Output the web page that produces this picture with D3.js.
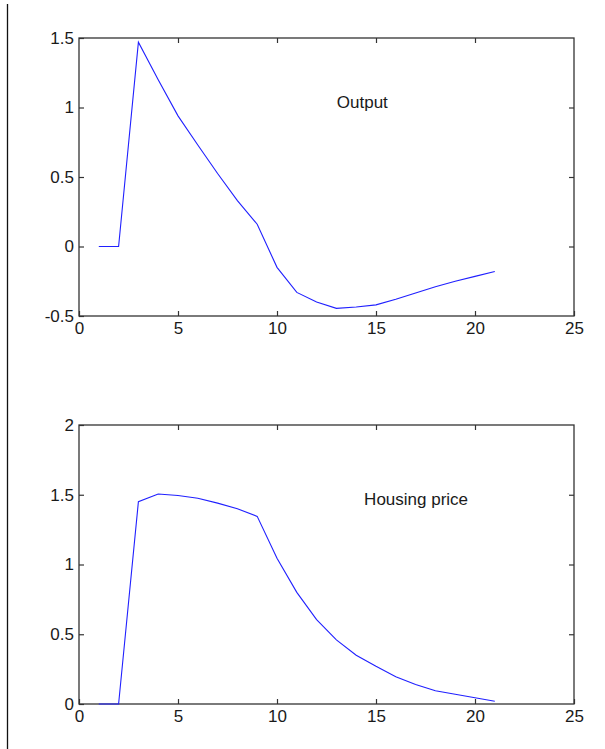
<!DOCTYPE html>
<html>
<head>
<meta charset="utf-8">
<script src="https://cdn.jsdelivr.net/npm/d3@7"></script>
<style>
  body { margin: 0; background: #fff; }
  text { font-family: "Liberation Sans", Arial, sans-serif; }
</style>
</head>
<body>
<script>
// periods (horizon) shared by both panels
var periods = [1, 2, 3, 4, 5, 6, 7, 8, 9, 10, 11, 12, 13, 14, 15, 16, 17, 18, 19, 20, 21];
var output = [0, 0, 1.47, 1.2, 0.94, 0.73, 0.525, 0.33, 0.16, -0.15, -0.33, -0.40, -0.445, -0.435, -0.42, -0.38, -0.335, -0.29, -0.25, -0.215, -0.18];
var housing = [0, 0, 1.45, 1.505, 1.495, 1.475, 1.44, 1.4, 1.345, 1.045, 0.8, 0.605, 0.46, 0.35, 0.27, 0.195, 0.14, 0.095, 0.07, 0.045, 0.02];
var xTicks = [0, 5, 10, 15, 20, 25];
var outputTicks = [-0.5, 0, 0.5, 1, 1.5];
var housingTicks = [0, 0.5, 1, 1.5, 2];

var W = 605, H = 749;
var svg = d3.select('body')
    .append('svg')
    .attr('width', W)
    .attr('height', H);

// vertical rule at the left edge of the page
svg.append('line')
    .attr('x1', 7.5).attr('x2', 7.5)
    .attr('y1', 4).attr('y2', H)
    .attr('stroke', '#111')
    .attr('stroke-width', 1.3);

function panel(top, height, yDomain, yTicks, values, label, labelPos) {
    var left = 79, width = 495;
    var x = d3.scaleLinear().domain([0, 25]).range([0, width]);
    var y = d3.scaleLinear().domain(yDomain).range([height, 0]);
    var g = svg.append('g')
        .attr('transform', 'translate(' + left + ',' + top + ')');
    var fmt = function (d) { return String(d); };

    // bottom axis with labels, ticks pointing inward
    g.append('g')
        .attr('transform', 'translate(0,' + height + ')')
        .call(d3.axisBottom(x).tickValues(xTicks).tickSizeInner(-5).tickSizeOuter(0).tickPadding(6).tickFormat(fmt));
    // top axis: ticks only
    g.append('g')
        .call(d3.axisTop(x).tickValues(xTicks.slice(1, -1)).tickSizeInner(-5).tickSizeOuter(0).tickFormat(''));
    // left axis with labels
    g.append('g')
        .call(d3.axisLeft(y).tickValues(yTicks).tickSizeInner(-5).tickSizeOuter(0).tickPadding(5).tickFormat(fmt));
    // right axis: ticks only
    g.append('g')
        .attr('transform', 'translate(' + width + ',0)')
        .call(d3.axisRight(y).tickValues(yTicks.slice(1, -1)).tickSizeInner(-5).tickSizeOuter(0).tickFormat(''));

    g.selectAll('.domain').remove();
    g.selectAll('.tick line').attr('stroke', '#333').attr('stroke-width', 1.2);
    g.selectAll('.tick text')
        .attr('fill', '#1a1a1a')
        .style('font-size', '17px');

    // frame
    g.append('rect')
        .attr('x', 0).attr('y', 0)
        .attr('width', width).attr('height', height)
        .attr('fill', 'none')
        .attr('stroke', '#333')
        .attr('stroke-width', 1.3);

    var line = d3.line()
        .x(function (d, i) { return x(periods[i]); })
        .y(function (d) { return y(d); });
    g.append('path')
        .datum(values)
        .attr('d', line)
        .attr('fill', 'none')
        .attr('stroke', '#2020ff')
        .attr('stroke-width', 1.1);

    g.append('text')
        .attr('x', x(labelPos[0]))
        .attr('y', y(labelPos[1]))
        .attr('fill', '#1a1a1a')
        .style('font-size', '17px')
        .text(label);
}

panel(38, 278, [-0.5, 1.5], outputTicks, output, 'Output', [13.02, 1.0]);
panel(425, 279, [0, 2], housingTicks, housing, 'Housing price', [14.4, 1.43]);
</script>
</body>
</html>
